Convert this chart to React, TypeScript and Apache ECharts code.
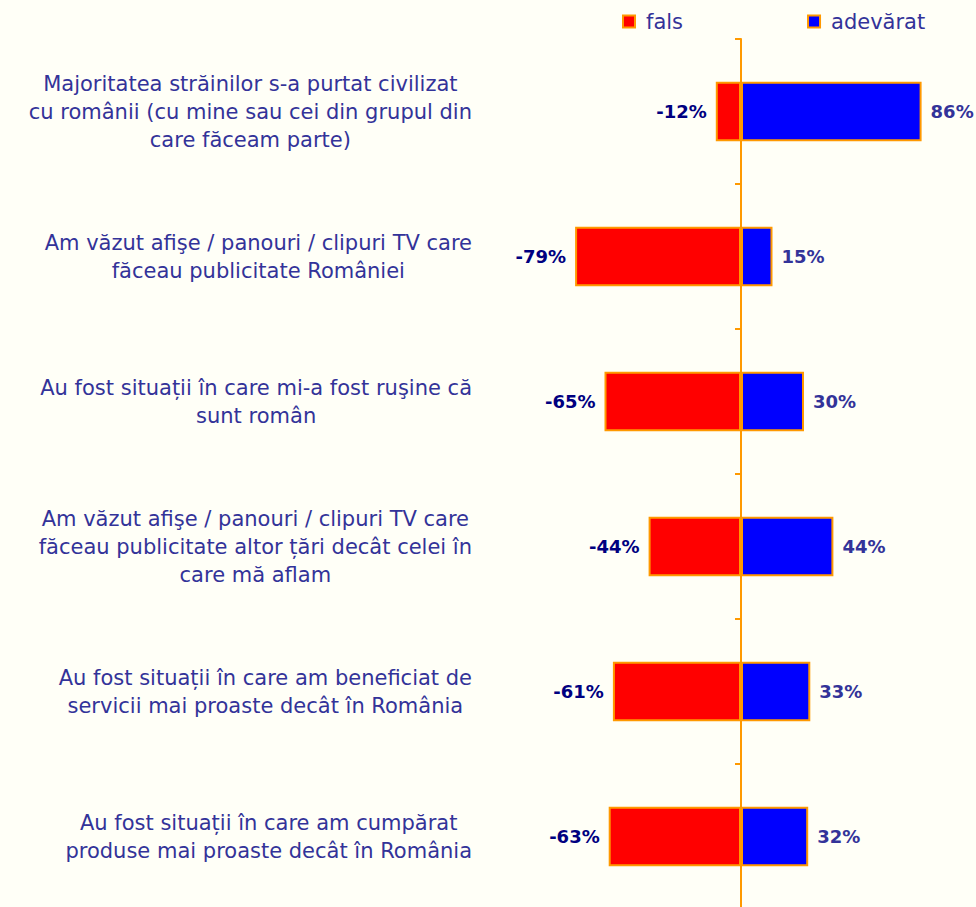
import React, { useEffect, useRef } from "react";
import * as echarts from "echarts";

const categories: string[] = [
  "Majoritatea străinilor s-a purtat civilizat\ncu românii (cu mine sau cei din grupul din\ncare făceam parte)",
  "Am văzut afişe / panouri / clipuri TV care\nfăceau publicitate României",
  "Au fost situații în care mi-a fost ruşine că\nsunt român",
  "Am văzut afişe / panouri / clipuri TV care\nfăceau publicitate altor țări decât celei în\ncare mă aflam",
  "Au fost situații în care am beneficiat de\nservicii mai proaste decât în România",
  "Au fost situații în care am cumpărat\nproduse mai proaste decât în România",
];

const falsValues: number[] = [-12, -79, -65, -44, -61, -63];
const adevaratValues: number[] = [86, 15, 30, 44, 33, 32];
const seriesNames: string[] = ["fals", "adevărat"];

const FONT = "'DejaVu Sans', Verdana, sans-serif";
const ORANGE = "#FF9900";
const TEXT = "#333399";

export default function App() {
  const ref = useRef<HTMLDivElement>(null);

  useEffect(() => {
    if (!ref.current) return;
    const chart = echarts.init(ref.current, null, { renderer: "svg" });
    chart.setOption({
      animation: false,
      backgroundColor: "#FFFFF7",
      textStyle: { fontFamily: FONT },
      legend: {
        data: seriesNames,
        left: 617,
        top: 6,
        itemWidth: 12,
        itemHeight: 12,
        itemGap: 124,
        icon: "rect",
        textStyle: { fontSize: 21, color: TEXT, fontFamily: FONT, padding: [0, 0, 0, 6] },
      },
      grid: {
        left: 531,
        right: 25,
        top: 39,
        bottom: -2,
        outerBoundsMode: "none",
        containLabel: false,
      },
      xAxis: {
        type: "value",
        min: -100,
        max: 100,
        show: false,
      },
      yAxis: {
        type: "category",
        inverse: true,
        data: categories,
        position: "left",
        axisLine: { show: true, onZero: true, lineStyle: { color: ORANGE, width: 2 } },
        axisTick: { show: true, length: 6, lineStyle: { color: ORANGE, width: 2 } },
        splitLine: { show: false },
        axisLabel: {
          align: "right",
          margin: 59,
          formatter: (v: string) =>
            v
              .split("\n")
              .map((l) => `{c|${l}}`)
              .join("\n"),
          rich: {
            c: {
              align: "center",
              color: TEXT,
              fontSize: 21,
              lineHeight: 28,
              fontFamily: FONT,
            },
          },
        },
      },
      series: [
        {
          name: seriesNames[0],
          type: "bar",
          stack: "total",
          barCategoryGap: "59%",
          data: falsValues,
          itemStyle: { color: "#FF0000", borderColor: ORANGE, borderWidth: 2 },
          label: {
            show: true,
            position: "left",
            distance: 9,
            formatter: (p: any) => `${p.value}%`,
            color: "#000080",
            fontWeight: "bold",
            fontSize: 18,
            fontFamily: FONT,
          },
        },
        {
          name: seriesNames[1],
          type: "bar",
          stack: "total",
          barCategoryGap: "59%",
          data: adevaratValues,
          itemStyle: { color: "#0000FF", borderColor: ORANGE, borderWidth: 2 },
          label: {
            show: true,
            position: "right",
            distance: 9,
            formatter: (p: any) => `${p.value}%`,
            color: TEXT,
            fontWeight: "bold",
            fontSize: 18,
            fontFamily: FONT,
          },
        },
      ],
    });
    return () => chart.dispose();
  }, []);

  return (
    <div
      ref={ref}
      style={{ position: "absolute", left: 0, top: 0, width: 976, height: 907, background: "#FFFFF7" }}
    />
  );
}
